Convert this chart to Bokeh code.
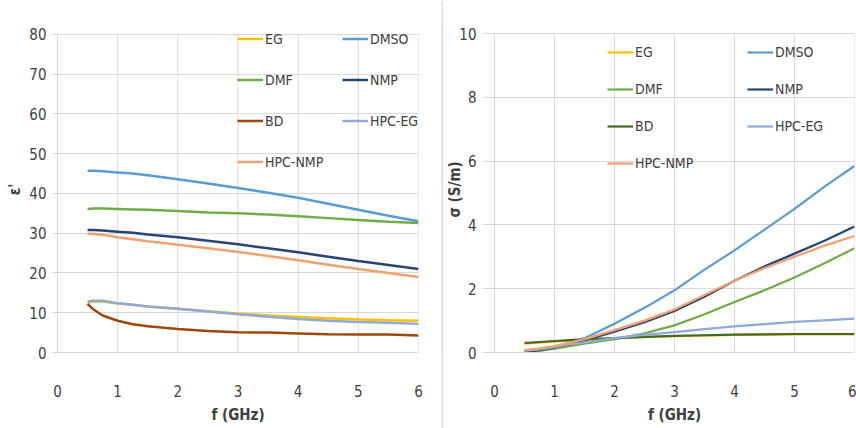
from bokeh.plotting import figure
from bokeh.models import Range1d, FixedTicker, Legend, LegendItem
from bokeh.layouts import row
from bokeh.embed import file_html
from bokeh.resources import INLINE

# ---------------- data ----------------
freq = [0.5, 0.6, 0.75, 1.0, 1.25, 1.5, 2.0, 2.5, 3.0, 3.5, 4.0, 4.5, 5.0, 5.5, 6.0]

# relative permittivity eps'
eps_EG = [12.6, 12.8, 12.8, 12.3, 12.0, 11.6, 11.0, 10.4, 9.8, 9.3, 8.9, 8.6, 8.3, 8.1, 8.0]
eps_DMSO = [45.7, 45.7, 45.6, 45.3, 45.0, 44.6, 43.6, 42.5, 41.4, 40.2, 38.9, 37.4, 35.9, 34.4, 33.0]
eps_DMF = [36.1, 36.2, 36.2, 36.1, 36.0, 35.9, 35.6, 35.2, 35.0, 34.7, 34.3, 33.8, 33.3, 32.9, 32.6]
eps_NMP = [30.8, 30.8, 30.7, 30.4, 30.1, 29.7, 29.0, 28.1, 27.2, 26.2, 25.2, 24.1, 23.0, 22.0, 21.0]
eps_BD = [12.2, 10.8, 9.3, 8.0, 7.1, 6.6, 5.9, 5.4, 5.1, 5.0, 4.8, 4.6, 4.5, 4.5, 4.3]
eps_HPC_EG = [12.8, 13.0, 13.0, 12.4, 12.0, 11.6, 11.0, 10.3, 9.6, 9.0, 8.4, 8.0, 7.7, 7.5, 7.2]
eps_HPC_NMP = [29.9, 29.8, 29.6, 29.0, 28.5, 28.0, 27.1, 26.2, 25.3, 24.3, 23.2, 22.1, 21.0, 20.0, 19.0]

# conductivity sigma (S/m)
sig_EG = [0.28, 0.29, 0.31, 0.34, 0.37, 0.40, 0.44, 0.48, 0.51, 0.53, 0.55, 0.56, 0.57, 0.57, 0.57]
sig_DMSO = [0.05, 0.07, 0.10, 0.18, 0.30, 0.45, 0.90, 1.40, 1.95, 2.60, 3.20, 3.85, 4.50, 5.20, 5.85]
sig_DMF = [0.00, 0.02, 0.05, 0.12, 0.20, 0.28, 0.42, 0.60, 0.85, 1.20, 1.58, 1.95, 2.35, 2.80, 3.27]
sig_NMP = [0.02, 0.04, 0.07, 0.15, 0.25, 0.38, 0.65, 0.95, 1.30, 1.75, 2.25, 2.70, 3.10, 3.50, 3.95]
sig_BD = [0.30, 0.31, 0.33, 0.36, 0.39, 0.41, 0.45, 0.49, 0.52, 0.54, 0.56, 0.57, 0.58, 0.58, 0.58]
sig_HPC_EG = [0.05, 0.07, 0.10, 0.17, 0.25, 0.32, 0.45, 0.55, 0.64, 0.73, 0.82, 0.89, 0.96, 1.01, 1.06]
sig_HPC_NMP = [0.08, 0.10, 0.13, 0.20, 0.30, 0.42, 0.70, 1.00, 1.35, 1.80, 2.25, 2.65, 3.00, 3.35, 3.65]

names = ["EG", "DMSO", "DMF", "NMP", "BD", "HPC-EG", "HPC-NMP"]
eps_series = [eps_EG, eps_DMSO, eps_DMF, eps_NMP, eps_BD, eps_HPC_EG, eps_HPC_NMP]
sig_series = [sig_EG, sig_DMSO, sig_DMF, sig_NMP, sig_BD, sig_HPC_EG, sig_HPC_NMP]

colors_left = ["#FFC000", "#5B9BD5", "#70AD47", "#264478", "#9E480E", "#8EA9DB", "#F1A070"]
colors_right = ["#FFC000", "#5B9BD5", "#70AD47", "#264478", "#43682B", "#8EA9DB", "#F1A070"]

x_ticks = [0, 1, 2, 3, 4, 5, 6]
eps_ticks = [0, 10, 20, 30, 40, 50, 60, 70, 80]
sig_ticks = [0, 2, 4, 6, 8, 10]

FONT = "DejaVu Sans Condensed"
TXT = "#404040"
GRID = "#d9d9d9"


def style(p, yticks, tick_out, label_standoff_y):
    p.xaxis.ticker = FixedTicker(ticks=x_ticks)
    p.yaxis.ticker = FixedTicker(ticks=yticks)
    p.ygrid.ticker = FixedTicker(ticks=yticks)
    p.ygrid.grid_line_color = GRID
    p.ygrid.grid_line_width = 1
    p.xgrid.visible = False
    # vertical grid lines limited to the labelled y span
    n = len(x_ticks) - 1
    p.segment(x0=x_ticks[1:], y0=[yticks[0]] * n, x1=x_ticks[1:], y1=[yticks[-1]] * n,
              line_color=GRID, line_width=1)
    for ax in (p.xaxis, p.yaxis):
        ax.axis_line_color = GRID
        ax.major_tick_line_color = GRID
        ax.minor_tick_line_color = None
        ax.major_tick_in = 0
        ax.major_label_text_font = FONT
        ax.major_label_text_font_size = "15px"
        ax.major_label_text_color = TXT
        ax.axis_label_text_font = FONT
        ax.axis_label_text_font_style = "bold"
        ax.axis_label_text_font_size = "15px"
        ax.axis_label_text_color = TXT
    p.xaxis.major_tick_out = 0
    p.xaxis.major_label_standoff = 32
    p.xaxis.axis_label_standoff = 6
    p.yaxis.major_tick_out = tick_out
    p.yaxis.major_label_standoff = 6
    p.yaxis.axis_label_standoff = label_standoff_y
    p.yaxis.bounds = (yticks[0], yticks[-1])
    p.outline_line_color = None
    p.background_fill_color = "white"
    p.border_fill_color = "white"


def add_legends(p, renderers, col1_loc, col2_loc, item_h, spacing):
    col1 = [LegendItem(label=names[i], renderers=[renderers[i]]) for i in (0, 2, 4, 6)]
    col2 = [LegendItem(label=names[i], renderers=[renderers[i]]) for i in (1, 3, 5)]
    for items, loc in ((col1, col1_loc), (col2, col2_loc)):
        lg = Legend(items=items, location=loc, orientation="vertical")
        lg.padding = 0
        lg.margin = 0
        lg.spacing = spacing
        lg.glyph_width = 26
        lg.glyph_height = item_h
        lg.label_height = item_h
        lg.label_standoff = 2
        lg.label_text_font = FONT
        lg.label_text_font_size = "14px"
        lg.label_text_color = TXT
        lg.border_line_color = None
        lg.background_fill_alpha = 0
        p.add_layout(lg, "center")


# frames run from y=26 to y=352 in both panels (the row aligns them);
# the ranges reach a little above the top tick so the legend fits in the frame
# ---------------- left panel ----------------
p1 = figure(width=441, height=428, output_backend="svg", toolbar_location=None,
            x_range=Range1d(0, 6.0001), y_range=Range1d(0, 82),
            min_border_left=57, min_border_right=23, min_border_top=26, min_border_bottom=76)
p1.xaxis.axis_label = "f (GHz)"
p1.yaxis.axis_label = "ε'"
style(p1, eps_ticks, 5, 2)
r1 = []
for i, ys in enumerate(eps_series):
    r1.append(p1.line(freq, ys, line_color=colors_left[i], line_width=2.5))
add_legends(p1, r1, (180, 180), (285, 221), 21, 20)

# ---------------- separator ----------------
sep = figure(width=2, height=428, output_backend="svg", toolbar_location=None,
             min_border=0, x_axis_type=None, y_axis_type=None)
sep.grid.visible = False
sep.outline_line_color = None
sep.background_fill_color = GRID
sep.border_fill_color = GRID

# ---------------- right panel ----------------
p2 = figure(width=413, height=428, output_backend="svg", toolbar_location=None,
            x_range=Range1d(0, 6.0001), y_range=Range1d(0, 10.22),
            min_border_left=50, min_border_right=2, min_border_top=26, min_border_bottom=76)
p2.xaxis.axis_label = "f (GHz)"
p2.yaxis.axis_label = "σ (S/m)"
style(p2, sig_ticks, 12, -8)
r2 = []
for i, ys in enumerate(sig_series):
    r2.append(p2.line(freq, ys, line_color=colors_right[i], line_width=2.2))
add_legends(p2, r2, (113, 179), (253, 216), 20, 17)

layout = row(p1, sep, p2)
open("out.html", "w").write(file_html(layout, INLINE))
